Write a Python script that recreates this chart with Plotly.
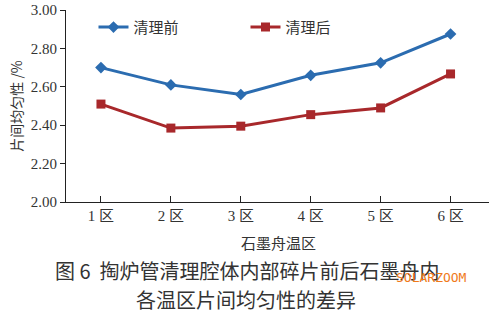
import plotly.graph_objects as go

categories = ["1 区", "2 区", "3 区", "4 区", "5 区", "6 区"]
before = [2.70, 2.61, 2.56, 2.66, 2.725, 2.875]
after = [2.51, 2.385, 2.395, 2.455, 2.49, 2.667]
y_ticks = [2.00, 2.20, 2.40, 2.60, 2.80, 3.00]
y_labels = ["2.00", "2.20", "2.40", "2.60", "2.80", "3.00"]

FONT = "Liberation Serif, Noto Sans CJK SC, serif"
CJK = "Noto Sans CJK SC, sans-serif"
xs = list(range(1, len(categories) + 1))

fig = go.Figure()
fig.add_trace(go.Scatter(x=xs, y=before, name="清理前", mode="lines+markers",
                         line=dict(color="#2b6cb0", width=3),
                         marker=dict(symbol="diamond", size=9, color="#2b6cb0")))
fig.add_trace(go.Scatter(x=xs, y=after, name="清理后", mode="lines+markers",
                         line=dict(color="#a8282b", width=3),
                         marker=dict(symbol="square", size=9, color="#a8282b")))

fig.update_layout(
    width=491, height=313,
    margin=dict(l=66, r=2, t=10, b=111),
    paper_bgcolor="white", plot_bgcolor="white",
    showlegend=True,
    legend=dict(orientation="h", x=0.065, y=0.91, xanchor="left", yanchor="middle",
                font=dict(family=CJK, size=15, color="#333"),
                entrywidth=107, entrywidthmode="pixels", bgcolor="rgba(0,0,0,0)",
                itemwidth=30),
    xaxis=dict(range=[0.5, 6.55], tickvals=xs, ticktext=categories,
               showline=True, linecolor="#222", linewidth=1.2,
               ticks="inside", ticklen=6, tickcolor="#222",
               showgrid=False, zeroline=False,
               tickfont=dict(family=FONT, size=15, color="#333")),
    yaxis=dict(range=[2.0, 3.0], tickvals=y_ticks, ticktext=y_labels,
               showline=True, linecolor="#222", linewidth=1.2,
               ticks="outside", ticklen=5, tickcolor="#222",
               showgrid=False, zeroline=False,
               tickfont=dict(family=FONT, size=15, color="#333"),
               title=dict(text="片间均匀性 /%", font=dict(family=CJK, size=14, color="#333"),
                          standoff=4)),
)

annots = [
    dict(text="石墨舟温区", px=278, py=242, size=15, color="#333"),
    dict(text="图 6  掏炉管清理腔体内部碎片前后石墨舟内", px=247, py=270, size=20, color="#333"),
    dict(text="各温区片间均匀性的差异", px=246, py=299, size=20, color="#333"),
]
plot_l, plot_r, plot_t, plot_b = 66, 489, 10, 202
for a in annots:
    fig.add_annotation(text=a["text"],
                       x=(a["px"] - plot_l) / (plot_r - plot_l),
                       y=(plot_b - a["py"]) / (plot_b - plot_t),
                       xref="paper", yref="paper", showarrow=False,
                       xanchor="center", yanchor="middle",
                       font=dict(family=CJK, size=a["size"], color=a["color"]))
fig.add_annotation(text="SOLARZOOM", x=(431 - plot_l) / (plot_r - plot_l),
                   y=(plot_b - 277) / (plot_b - plot_t), xref="paper", yref="paper",
                   showarrow=False, xanchor="center", yanchor="middle",
                   font=dict(family="DejaVu Sans Mono, monospace", size=13, color="#f07a1a"))

fig.write_html("out.html")
